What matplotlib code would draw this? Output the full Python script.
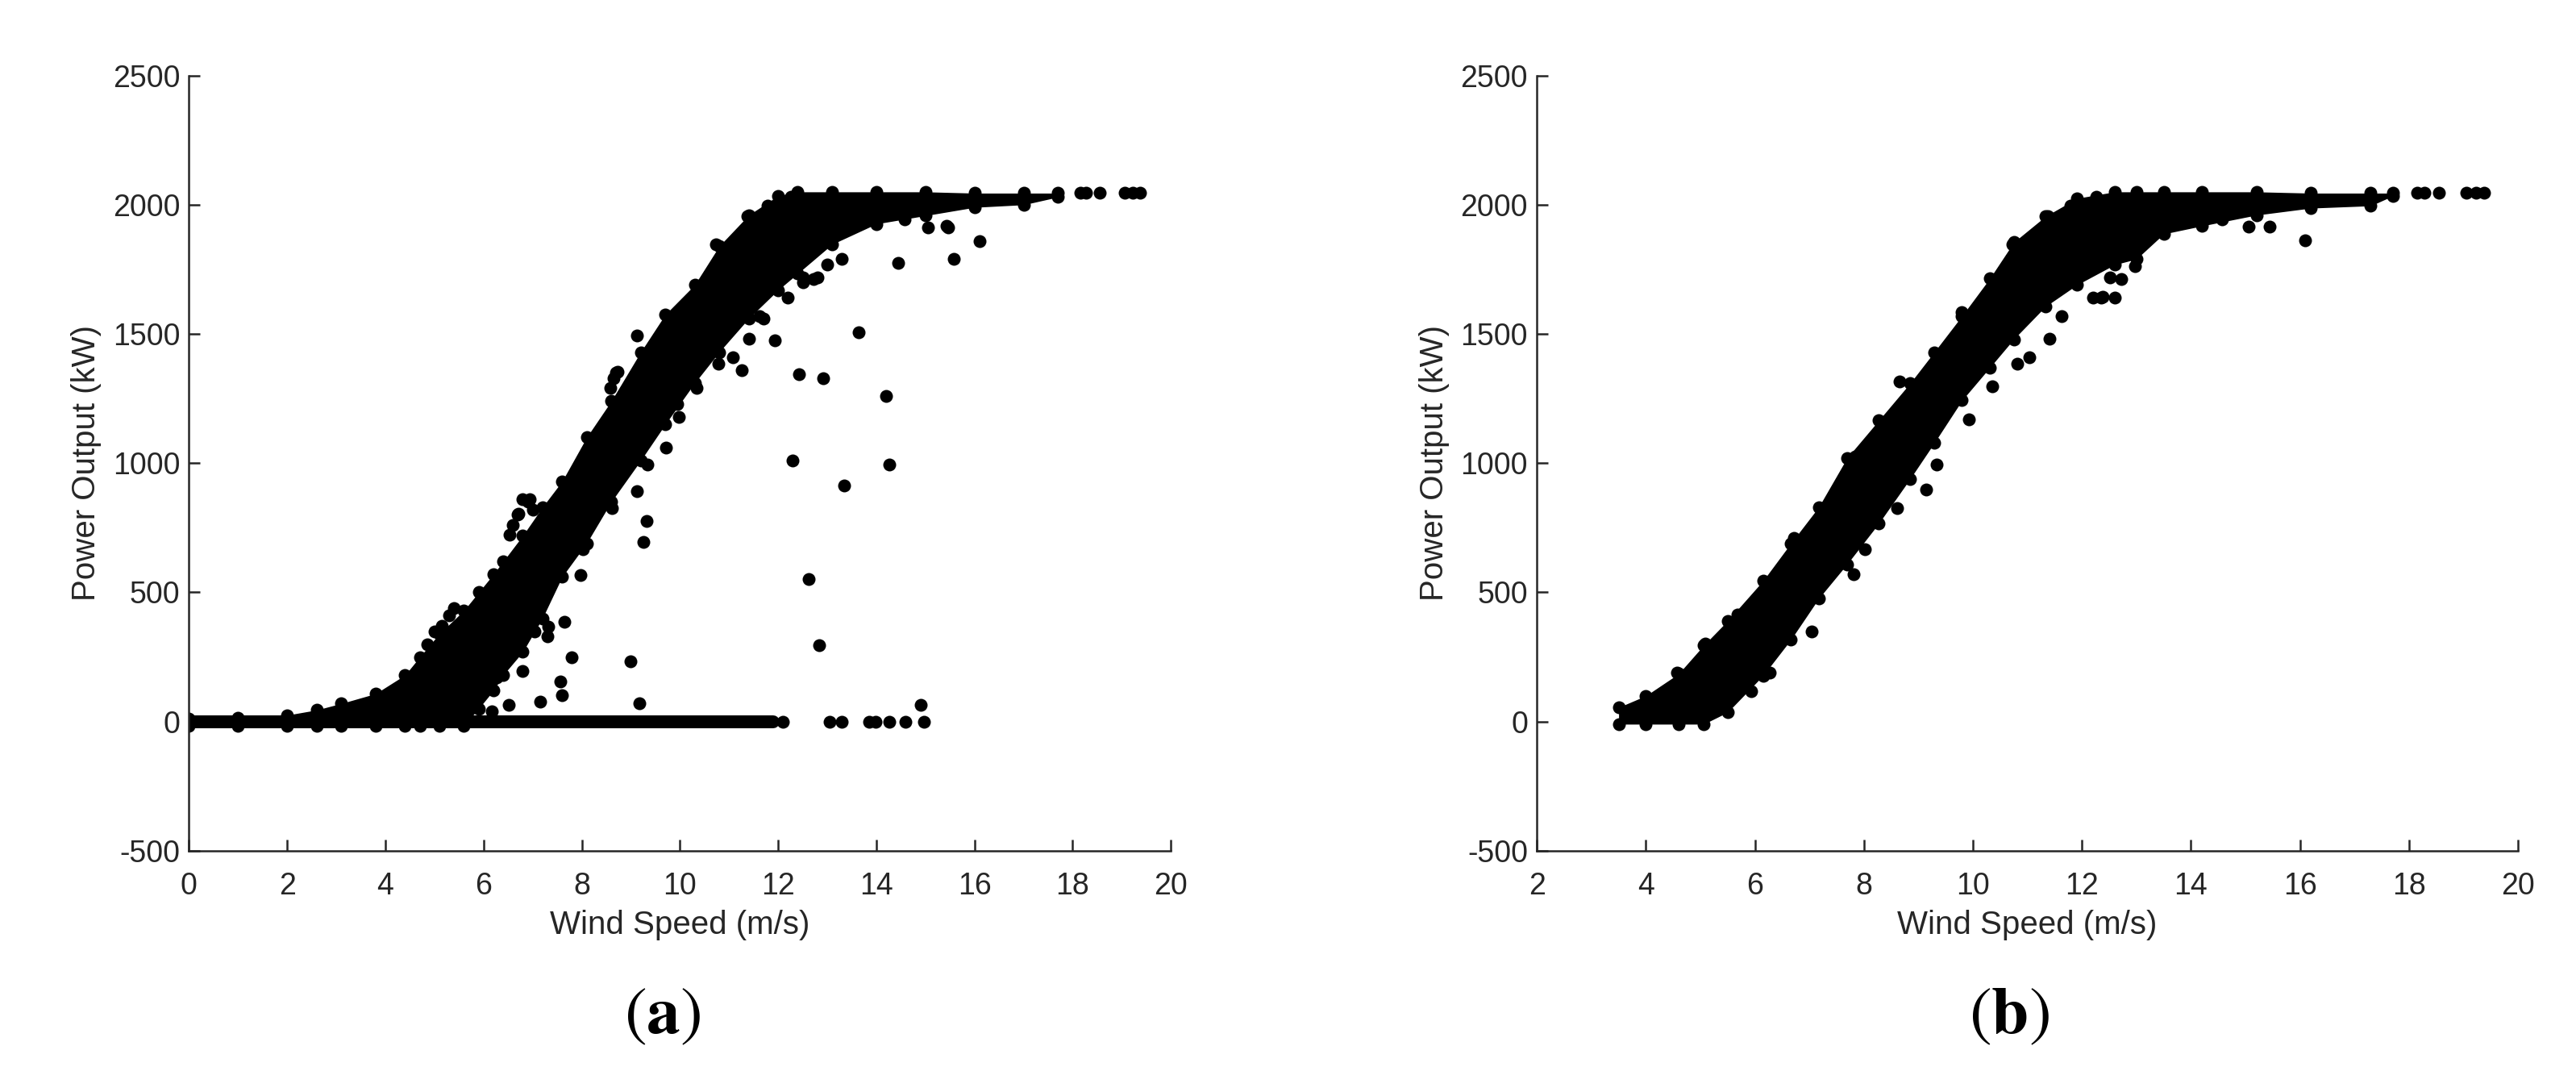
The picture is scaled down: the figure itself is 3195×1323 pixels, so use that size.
import matplotlib
matplotlib.use("Agg")
import matplotlib.pyplot as plt

plt.rcParams['font.family'] = ['Liberation Sans', 'DejaVu Sans']
plt.rcParams['axes.unicode_minus'] = False
plt.rcParams['mathtext.fontset'] = 'stix'

# ---- panel (a): raw data ----
# dense band, read off the picture as lower / upper edge per wind speed
a_band_x = [0.0, 1.0, 2.0, 2.6, 3.1, 3.8, 4.4, 4.7, 5.1, 5.6, 5.9, 6.2, 6.4, 6.8, 7.2, 7.6,
            8.1, 8.6, 9.2, 9.7, 10.3, 10.8, 11.4, 12.0, 12.4, 13.1, 14.0, 15.0, 16.0, 17.0, 17.7]
a_band_hi = [12, 15, 25, 45, 70, 108, 180, 250, 340, 430, 500, 570, 620, 720, 830, 930,
             1100, 1240, 1430, 1575, 1690, 1840, 1960, 2035, 2050, 2050, 2050, 2050, 2045, 2045, 2045]
a_band_lo = [-15, -15, -15, -15, -15, -15, -15, -15, -15, -15, 50, 120, 180, 270, 400, 560,
             690, 850, 1010, 1150, 1310, 1430, 1560, 1670, 1734, 1847, 1926, 1958, 1990, 2000, 2030]

# stopped turbine: zero output line and single zero points
a_zero_x = [0.0, 11.9]
a_zero_y = [0, 0]
a_zero_pts_x = [12.1, 13.05, 13.3, 13.85, 13.98, 14.27, 14.6, 14.97]

# scattered points away from (or on the rim of) the band
a_out_x = [12.3, 12.43, 12.91, 13.64, 14.2, 14.27, 13.35, 12.63, 12.84, 14.45, 15.58, 16.1,
           15.46, 15.05, 11.94, 11.26, 9.13, 9.32, 9.25, 9.0, 9.17, 9.72, 7.79, 7.57, 7.59,
           7.65, 7.32, 7.3, 7.15, 6.79, 6.52, 6.16, 7.97, 14.9, 4.85, 5.0, 5.15, 5.3, 5.4,
           6.6, 6.7, 6.8, 6.9, 7.0, 8.64, 8.7, 9.13, 11.7, 12.2, 12.5, 12.8, 13.0, 13.3,
           14.57, 15.43, 18.15, 18.28, 18.55, 19.06, 19.23, 19.38,
           8.73, 8.58, 6.94, 6.71, 6.53, 11.08, 11.41, 10.78, 10.34, 9.98, 9.95,
           11.62, 12.51, 12.72, 5.93, 6.27, 7.04, 8.02, 8.61, 9.33, 10.73, 11.37, 11.79, 12.26]
a_out_y = [1010, 1345, 1330, 1507, 1261, 996, 915, 552, 294, 1775, 1789, 1858,
           1913, 1911, 1474, 1359, 893, 776, 695, 232, 72, 1060, 248, 155, 103,
           387, 368, 330, 76, 196, 64, 40, 568, 64, 300, 350, 370, 410, 440,
           760, 800, 860, 850, 820, 1330, 1350, 1495, 1560, 1640, 1700, 1720, 1770, 1790,
           1944, 1918, 2045, 2045, 2045, 2045, 2045, 2045,
           1354, 1290, 860, 804, 723, 1410, 1481, 1385, 1290, 1179, 1230,
           1568, 1718, 1712, 100, 170, 350, 668, 827, 995, 1847, 1956, 1998, 2031]

# ---- panel (b): cleaned data ----
b_band_x = [3.5, 4.0, 4.6, 5.06, 5.5, 6.15, 6.66, 7.17, 7.69, 8.27, 8.85, 9.29, 9.8, 10.31,
            10.75, 11.33, 11.91, 12.6, 13.0, 13.5, 14.2, 15.2, 16.2, 17.3, 17.7]
b_band_hi = [55, 100, 185, 295, 390, 545, 690, 830, 1020, 1165, 1310, 1430, 1570, 1715,
             1855, 1955, 2025, 2050, 2050, 2050, 2050, 2050, 2045, 2045, 2045]
b_band_lo = [-10, -10, -10, -10, 36, 178, 317, 476, 609, 766, 940, 1078, 1243, 1370,
             1480, 1606, 1690, 1768, 1790, 1887, 1918, 1960, 1987, 1996, 2034]

b_out_x = [6.72, 7.81, 9.14, 8.66, 16.09, 15.44, 15.06, 12.98, 12.6, 12.35, 14.57,
           18.15, 18.28, 18.55, 19.06, 19.23, 19.38,
           11.03, 10.81, 11.41, 11.62, 12.2, 12.38, 12.51, 12.72, 10.35, 9.93, 9.33,
           8.61, 8.02, 7.04, 6.27, 5.93, 5.4, 5.09, 4.57, 5.68, 7.84, 9.79, 10.73,
           11.37, 11.79, 12.26]
b_out_y = [711, 570, 899, 1316, 1862, 1915, 1915, 1764, 1640, 1640, 1944,
           2045, 2045, 2045, 2045, 2045, 2045,
           1410, 1385, 1481, 1568, 1640, 1645, 1718, 1712, 1297, 1169, 995,
           827, 668, 350, 190, 119, 60, 302, 190, 414, 1026, 1586, 1847,
           1956, 1998, 2031]

x_ticks_a = [0, 2, 4, 6, 8, 10, 12, 14, 16, 18, 20]
x_ticks_b = [2, 4, 6, 8, 10, 12, 14, 16, 18, 20]
y_ticks = [-500, 0, 500, 1000, 1500, 2000, 2500]

ms = 11.5
axc = '#262626'

fig = plt.figure(figsize=(31.95, 13.23), dpi=100)
ax1 = fig.add_axes([0.07337, 0.20265, 0.38116, 0.72653])
ax2 = fig.add_axes([0.59662, 0.20265, 0.38085, 0.72653])


def draw_band(ax, bx, lo, hi):
    ax.fill_between(bx, lo, hi, color='k', lw=0)
    ax.plot(bx, lo, 'o', color='k', ms=ms, mew=0)
    ax.plot(bx, hi, 'o', color='k', ms=ms, mew=0)


draw_band(ax1, a_band_x, a_band_lo, a_band_hi)
ax1.plot(a_zero_x, a_zero_y, '-', color='k', lw=ms, solid_capstyle='round')
ax1.plot(a_zero_pts_x, [0] * len(a_zero_pts_x), 'o', color='k', ms=ms, mew=0)
ax1.plot(a_out_x, a_out_y, 'o', color='k', ms=ms, mew=0)

draw_band(ax2, b_band_x, b_band_lo, b_band_hi)
ax2.plot(b_out_x, b_out_y, 'o', color='k', ms=ms, mew=0)

for ax, xt in [(ax1, x_ticks_a), (ax2, x_ticks_b)]:
    ax.set_xlim(xt[0], xt[-1])
    ax.set_ylim(-500, 2500)
    ax.set_xticks(xt)
    ax.set_yticks(y_ticks)
    for s in ['top', 'right']:
        ax.spines[s].set_visible(False)
    for s in ['left', 'bottom']:
        ax.spines[s].set_color(axc)
        ax.spines[s].set_linewidth(1.8)
    ax.tick_params(direction='in', length=10, width=1.8, colors=axc, labelsize=27)
    ax.tick_params(axis='x', pad=19)
    ax.tick_params(axis='y', pad=8)
    ax.set_xlabel('Wind Speed (m/s)', fontsize=29, color=axc, labelpad=8)
    ax.set_ylabel('Power Output (kW)', fontsize=29, color=axc, labelpad=10)

fig.text(0.257, 0.046, r'($\mathbf{a}$)', fontsize=60, family='STIXGeneral',
         ha='center', va='center')
fig.text(0.780, 0.046, r'($\mathbf{b}$)', fontsize=60, family='STIXGeneral',
         ha='center', va='center')

fig.savefig('out.png', dpi=100)
